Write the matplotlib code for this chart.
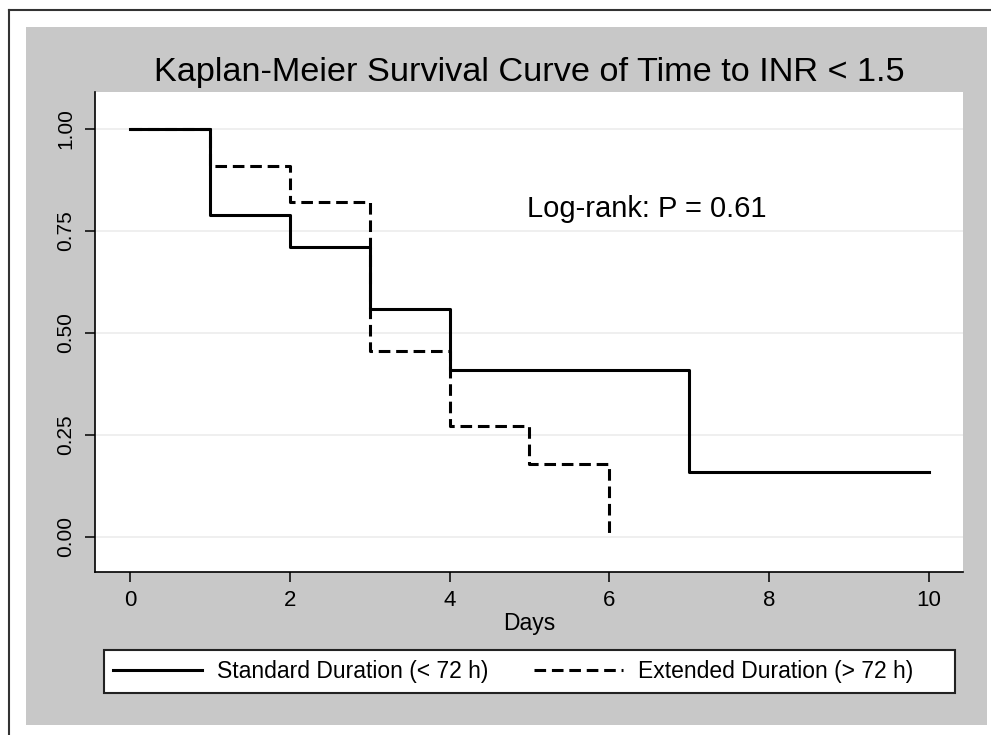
import matplotlib
matplotlib.use("Agg")
import matplotlib.pyplot as plt
from matplotlib.lines import Line2D
from matplotlib.patches import Rectangle

plt.rcParams["font.family"] = ["Liberation Sans", "DejaVu Sans"]

# Kaplan-Meier estimates
std_days = [0, 1, 2, 3, 4, 7, 10]
std_surv = [1.00, 0.79, 0.71, 0.56, 0.41, 0.16, 0.16]
ext_days = [0, 1, 2, 3, 4, 5, 6]
ext_surv = [1.00, 0.91, 0.82, 0.455, 0.273, 0.18, 0.00]

x_ticks = [0, 2, 4, 6, 8, 10]
y_ticks = [0.00, 0.25, 0.50, 0.75, 1.00]
labels = ["Standard Duration (< 72 h)", "Extended Duration (> 72 h)"]
title = "Kaplan-Meier Survival Curve of Time to INR < 1.5"
annot = "Log-rank: P = 0.61"

W, H = 991, 735
fig = plt.figure(figsize=(W / 100, H / 100), dpi=100, facecolor="white")

# grey panel + outer border
fig.patches.append(Rectangle((26 / W, 1 - 725 / H), (987 - 26) / W, (725 - 27) / H,
                             transform=fig.transFigure, facecolor="#c8c8c8",
                             edgecolor="none", zorder=-10))
fig.add_artist(Line2D([9 / W, 9 / W], [0, 1 - 10 / H], transform=fig.transFigure,
                      color="#333333", lw=1.5))
fig.add_artist(Line2D([9 / W, 1], [1 - 10 / H, 1 - 10 / H], transform=fig.transFigure,
                      color="#333333", lw=1.5))

ax = fig.add_axes([95 / W, 1 - 572 / H, (963 - 95) / W, (572 - 92) / H])
ax.set_facecolor("white")

ax.step(std_days, std_surv, where="post", color="black", lw=2.2, label=labels[0])
ax.step(ext_days, ext_surv, where="post", color="black", lw=2.2,
        linestyle=(0, (3.8, 1.9)), label=labels[1])

ax.set_xlim(-0.438, 10.426)
ax.set_ylim(-0.0858, 1.0907)
ax.set_xticks(x_ticks)
ax.set_yticks(y_ticks)
ax.set_yticklabels([f"{v:.2f}" for v in y_ticks], rotation=90, va="center")
ax.tick_params(axis="x", labelsize=16, length=7, width=1.1, pad=6)
ax.tick_params(axis="y", labelsize=15, length=7, width=1.1, pad=7)
ax.grid(axis="y", color="#ececec", lw=1.2)
ax.set_axisbelow(True)
for side in ["top", "right"]:
    ax.spines[side].set_visible(False)
for side in ["left", "bottom"]:
    ax.spines[side].set_linewidth(1.2)

ax.set_title(title, fontsize=24.7, pad=8)
ax.set_xlabel("Days", fontsize=16.5, labelpad=1)
ax.text(4.97, 0.785, annot, fontsize=21, va="baseline", ha="left")

# legend box below the plot
fig.patches.append(Rectangle((104 / W, 1 - 693 / H), (955 - 104) / W, (693 - 650) / H,
                             transform=fig.transFigure, facecolor="white",
                             edgecolor="#222222", lw=1.5, zorder=1))
leg = fig.legend(loc="center left", bbox_to_anchor=(113 / W, 1 - 671.5 / H),
                 ncol=2, frameon=False, fontsize=16.5, handlelength=3.9,
                 handletextpad=0.65, columnspacing=1.96, borderpad=0,
                 borderaxespad=0)
leg.set_zorder(2)

fig.savefig("out.png", dpi=100, facecolor="white")
